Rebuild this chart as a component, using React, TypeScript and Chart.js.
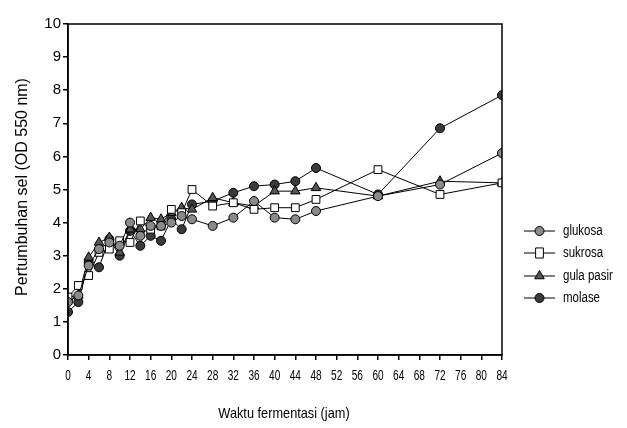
import React, { useEffect, useRef } from "react";
import { Chart, registerables } from "chart.js";

Chart.register(...registerables);

const hours = [0, 2, 4, 6, 8, 10, 12, 14, 16, 18, 20, 22, 24, 28, 32, 36, 40, 44, 48, 60, 72, 84];
const glukosa = [1.6, 1.8, 2.7, 3.2, 3.4, 3.3, 4.0, 3.6, 3.9, 3.9, 4.0, 4.2, 4.1, 3.9, 4.15, 4.65, 4.15, 4.1, 4.35, 4.8, 5.15, 6.1];
const sukrosa = [1.75, 2.1, 2.4, 3.1, 3.2, 3.45, 3.4, 4.05, 3.8, 3.9, 4.4, 4.3, 5.0, 4.5, 4.6, 4.4, 4.45, 4.45, 4.7, 5.6, 4.85, 5.2];
const gulaPasir = [1.75, 1.8, 2.95, 3.4, 3.55, 3.1, 3.8, 3.8, 4.15, 4.1, 4.3, 4.45, 4.4, 4.75, 4.6, 4.5, 4.95, 4.95, 5.05, 4.8, 5.25, 5.2];
const molase = [1.3, 1.6, 2.8, 2.65, 3.5, 3.0, 3.75, 3.3, 3.6, 3.45, 4.1, 3.8, 4.55, 4.65, 4.9, 5.1, 5.15, 5.25, 5.65, 4.85, 6.85, 7.85];

const seriesNames = ["glukosa", "sukrosa", "gula pasir", "molase"];
const xTitle = "Waktu fermentasi (jam)";
const yTitle = "Pertumbuhan sel (OD 550 nm)";

const FONT = "'Liberation Sans', Arial, sans-serif";

type Style = { pointStyle: string; fill: string; radius: number };
const styles: Style[] = [
  { pointStyle: "circle", fill: "#8a8a8a", radius: 4.5 },
  { pointStyle: "rect", fill: "#ffffff", radius: 5.5 },
  { pointStyle: "triangle", fill: "#555555", radius: 5.5 },
  { pointStyle: "circle", fill: "#3a3a3a", radius: 4.5 },
];

function drawMarker(ctx: CanvasRenderingContext2D, st: Style, x: number, y: number) {
  ctx.save();
  ctx.fillStyle = st.fill;
  ctx.strokeStyle = "#000";
  ctx.lineWidth = 1;
  ctx.beginPath();
  const r = st.radius;
  if (st.pointStyle === "circle") {
    ctx.arc(x, y, r, 0, Math.PI * 2);
  } else if (st.pointStyle === "rect") {
    const s = r / Math.SQRT2 * 1.0;
    ctx.rect(x - s, y - s * 1.3, s * 2, s * 2.6);
  } else {
    ctx.moveTo(x, y - r);
    ctx.lineTo(x + r * 0.87, y + r * 0.5);
    ctx.lineTo(x - r * 0.87, y + r * 0.5);
    ctx.closePath();
  }
  ctx.fill();
  ctx.stroke();
  ctx.restore();
}

const customPlugin = {
  id: "custom",
  afterDraw(chart: any) {
    const ctx: CanvasRenderingContext2D = chart.ctx;
    const { left, right, top, bottom } = chart.chartArea;
    ctx.save();
    // box
    ctx.strokeStyle = "#000";
    ctx.lineWidth = 1.5;
    ctx.strokeRect(left, top, right - left, bottom - top);

    // x tick labels (condensed)
    const xs = chart.scales.x;
    ctx.fillStyle = "#000";
    ctx.font = `14px ${FONT}`;
    ctx.textAlign = "center";
    ctx.textBaseline = "middle";
    xs.ticks.forEach((t: any) => {
      const px = xs.getPixelForValue(t.value);
      ctx.save();
      ctx.translate(px, 376);
      ctx.scale(0.72, 1);
      ctx.fillText(String(t.value), 0, 0);
      ctx.restore();
    });

    // x title
    ctx.save();
    ctx.translate(284, 414);
    ctx.scale(0.85, 1);
    ctx.font = `15px ${FONT}`;
    ctx.fillText(xTitle, 0, 0);
    ctx.restore();

    // y title
    ctx.save();
    ctx.translate(23, 187);
    ctx.rotate(-Math.PI / 2);
    ctx.font = `16px ${FONT}`;
    ctx.fillText(yTitle, 0, 0);
    ctx.restore();

    // legend
    const rows = [231, 253, 276, 298];
    seriesNames.forEach((name, i) => {
      const y = rows[i];
      ctx.strokeStyle = "#000";
      ctx.lineWidth = 1;
      ctx.beginPath();
      ctx.moveTo(524, y);
      ctx.lineTo(555, y);
      ctx.stroke();
      drawMarker(ctx, styles[i], 539.5, y);
      ctx.save();
      ctx.translate(563, y);
      ctx.scale(0.82, 1);
      ctx.textAlign = "left";
      ctx.font = `14px ${FONT}`;
      ctx.fillStyle = "#000";
      ctx.fillText(name, 0, 0);
      ctx.restore();
    });
    ctx.restore();
  },
};

document.body.style.margin = "0";

export default function App() {
  const ref = useRef<HTMLCanvasElement>(null);
  useEffect(() => {
    if (!ref.current) return;
    const all = [glukosa, sukrosa, gulaPasir, molase];
    const chart = new Chart(ref.current, {
      type: "line",
      data: {
        datasets: all.map((vals, i) => ({
          label: seriesNames[i],
          data: hours.map((h, j) => ({ x: h, y: vals[j] })),
          borderColor: "#000",
          borderWidth: 1,
          pointStyle: styles[i].pointStyle as any,
          pointRadius: styles[i].radius,
          pointBackgroundColor: styles[i].fill,
          pointBorderColor: "#000",
          pointBorderWidth: 1,
          tension: 0,
          fill: false,
        })),
      },
      options: {
        responsive: false,
        animation: false,
        events: [],
        layout: { padding: { left: 0, right: 125, top: 24, bottom: 0 } },
        plugins: { legend: { display: false }, tooltip: { enabled: false } },
        scales: {
          x: {
            type: "linear",
            min: 0,
            max: 84,
            afterFit: (s: any) => { s.height = 73; },
            ticks: { display: false, stepSize: 4 },
            grid: { display: true, drawOnChartArea: false, drawTicks: true, tickLength: 5, color: "#000", lineWidth: 1.5 },
            border: { display: true, color: "#000", width: 1.5 },
          },
          y: {
            min: 0,
            max: 10,
            afterFit: (s: any) => { s.width = 68; },
            ticks: { stepSize: 1, color: "#000", font: { family: FONT, size: 15 }, padding: 2 },
            grid: { display: true, drawOnChartArea: false, drawTicks: true, tickLength: 5, color: "#000", lineWidth: 1.5 },
            border: { display: true, color: "#000", width: 1.5 },
          },
        },
      },
      plugins: [customPlugin],
    });
    return () => chart.destroy();
  }, []);
  return <canvas ref={ref} width={627} height={428} style={{ display: "block" }} />;
}
